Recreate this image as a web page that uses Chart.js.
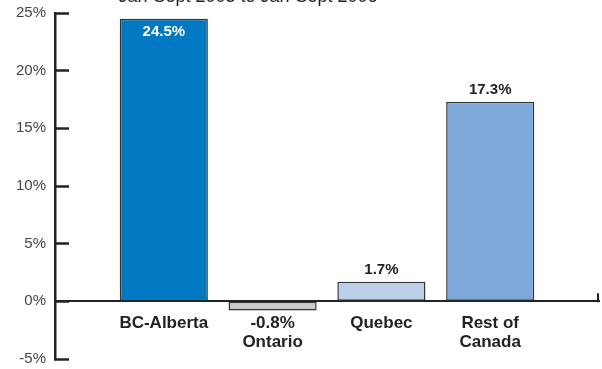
<!DOCTYPE html>
<html>
<head>
<meta charset="utf-8">
<script src="https://cdn.jsdelivr.net/npm/chart.js@4.4.1/dist/chart.umd.min.js"></script>
<style>
    html, body { margin: 0; padding: 0; background: #fff; }
    #wrap { width: 602px; height: 369px; position: relative; }
</style>
</head>
<body>
<div id="wrap"><canvas id="chart"></canvas></div>
<script>
// growth in employment by region, percent
var categories = ['BC-Alberta', 'Ontario', 'Quebec', ['Rest of', 'Canada']];
var growth = [24.5, -0.8, 1.7, 17.3];
var barColors = ['#0079c2', '#c9c9c9', '#bccfe9', '#7ea8da'];
var yTicks = [-5, 0, 5, 10, 15, 20, 25];
var titleText = 'Jan-Sept 2005 to Jan-Sept 2006';

var fontFamily = "'Liberation Sans', Arial, sans-serif";
var yMin = yTicks[0];
var yMax = yTicks[yTicks.length - 1];

function fmt(v) {
    return v.toFixed(1) + '%';
}

// empty slot on each side so the bars sit half a step in from the axes
var labels = [''].concat(categories, ['']);
var values = [null].concat(growth, [null]);
var colors = ['#fff'].concat(barColors, ['#fff']);

var valueLabels = {
    id: 'valueLabels',
    afterDatasetsDraw: function(chart) {
        var ctx = chart.ctx;
        var meta = chart.getDatasetMeta(0);
        ctx.save();
        ctx.textAlign = 'center';
        ctx.textBaseline = 'middle';
        ctx.font = 'bold 15px ' + fontFamily;
        meta.data.forEach(function(bar, i) {
            var v = values[i];
            if (v === null || v < 0) return; // negative ones go with the axis label
            if (v > yMax - 2) {
                ctx.fillStyle = '#fff';
                ctx.fillText(fmt(v), bar.x, bar.y + 13);
            } else {
                ctx.fillStyle = '#222';
                ctx.fillText(fmt(v), bar.x, bar.y - 12);
            }
        });
        ctx.restore();
    }
};

var extras = {
    id: 'extras',
    afterDraw: function(chart) {
        var ctx = chart.ctx;
        var area = chart.chartArea;
        var zero = chart.scales.y.getPixelForValue(0);
        ctx.save();
        // little end tick at the right of the zero line
        ctx.strokeStyle = '#222';
        ctx.lineWidth = 2;
        ctx.beginPath();
        ctx.moveTo(area.right - 1, zero - 8);
        ctx.lineTo(area.right - 1, zero + 1);
        ctx.stroke();
        // title, mostly above the top edge
        ctx.fillStyle = '#222';
        ctx.font = '18px ' + fontFamily;
        ctx.textAlign = 'center';
        ctx.textBaseline = 'alphabetic';
        ctx.fillText(titleText, 248, 2);
        ctx.restore();
    }
};

var ctx = document.getElementById('chart').getContext('2d');
var myChart = new Chart(ctx, {
    type: 'bar',
    data: {
        labels: labels,
        datasets: [{
            data: values,
            backgroundColor: colors,
            borderColor: '#333',
            borderWidth: 1.5,
            borderSkipped: false,
            barPercentage: 0.81,
            categoryPercentage: 1
        }]
    },
    options: {
        responsive: true,
        maintainAspectRatio: false,
        animation: false,
        layout: {
            padding: { top: 13, bottom: 10, left: 0, right: 3 }
        },
        plugins: {
            legend: { display: false },
            tooltip: { enabled: false }
        },
        scales: {
            x: {
                type: 'category',
                position: { y: 0 },
                offset: false,
                afterFit: function(scale) {
                    scale.paddingLeft = 0;
                    scale.paddingRight = 0;
                },
                grid: { display: false, drawTicks: false },
                border: { display: true, color: '#222', width: 2 },
                ticks: {
                    autoSkip: false,
                    maxRotation: 0,
                    padding: 12,
                    color: '#222',
                    font: { family: fontFamily, size: 17, weight: 'bold', lineHeight: 1.15 },
                    callback: function(value, index) {
                        var i = index - 1;
                        if (i < 0 || i >= categories.length) return '';
                        var lines = [].concat(categories[i]);
                        if (growth[i] < 0) lines = [fmt(growth[i])].concat(lines);
                        return lines;
                    }
                }
            },
            y: {
                min: yMin,
                max: yMax,
                afterBuildTicks: function(scale) {
                    scale.ticks = yTicks.map(function(v) { return { value: v }; });
                },
                afterFit: function(scale) {
                    scale.width = 55;
                    scale.paddingTop = 0;
                    scale.paddingBottom = 0;
                },
                grid: {
                    drawOnChartArea: false,
                    drawTicks: true,
                    tickLength: -14,
                    tickColor: '#222',
                    tickWidth: 2.5
                },
                border: { display: true, color: '#222', width: 2.5 },
                ticks: {
                    padding: 23,
                    color: '#444',
                    font: { family: fontFamily, size: 15 },
                    callback: function(v) { return v + '%'; }
                }
            }
        }
    },
    plugins: [valueLabels, extras]
});
</script>
</body>
</html>
